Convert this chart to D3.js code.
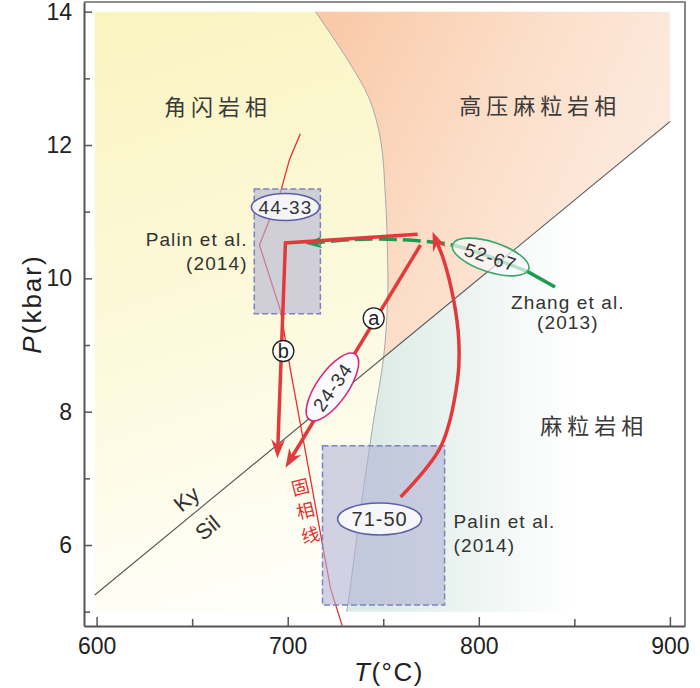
<!DOCTYPE html>
<html>
<head>
<meta charset="utf-8">
<script src="https://cdn.jsdelivr.net/npm/d3@7"></script>
<style>
  body { margin: 0; background: #fff; }
  text { font-family: "Liberation Sans", Arial, sans-serif; }
  .cjk { font-family: "Noto Sans CJK SC", sans-serif; }
</style>
</head>
<body>
<svg id="pt" width="700" height="688"></svg>
<script>
// ticks
let majorT = [600, 700, 800, 900];
let minorT = [650, 750, 850];
let majorP = [6, 8, 10, 12, 14];
let minorP = [5, 7, 9, 11, 13];

// field extent (T, P)
let fieldT = [599, 900];
let fieldP = [5, 14];

// amphibolite / granulite boundary, top to bottom
let boundary = [[714.5, 14], [731.3, 13.28], [742.6, 12.7], [748.6, 12.08], [751.2, 11.18],
  [752.3, 10.28], [752.3, 9.68], [750.2, 8.82], [745.0, 7.88], [738.1, 6.53], [731.3, 5.07], [730.8, 5.0]];

// kyanite - sillimanite line
let kySil = [[599, 5.25], [900, 12.35]];

// solidus
let solidus = [[706.6, 12.17], [700.9, 11.78], [696.2, 11.29], [685.2, 10.5], [696.2, 9.52],
  [701.4, 8.63], [722.4, 5.35], [728.5, 4.79]];

// Palin et al. boxes
let boxes = [{ t: [682.5, 717.1], p: [9.47, 11.34] }, { t: [718.2, 782.1], p: [5.1, 7.49] }];

// P-T paths
let pathB = [[768.0, 10.66], [698.8, 10.53], [694.6, 7.30]];
let pathA = [[769.5, 10.5], [698.8, 7.16]];
let pathC = [[759.1, 6.72], [780.0, 7.47], [788.9, 8.48], [789.5, 9.08], [786.8, 9.68], [781.6, 10.28], [775.8, 10.70]];
let greenSolid = [[839.9, 9.87], [825.6, 10.1], [806.2, 10.32]];
let greenDash = [[806.2, 10.32], [786.3, 10.5], [759.1, 10.58], [732.9, 10.58], [709.2, 10.52]];

// labels
let ages = [
  { text: "44-33", T: 698.8, P: 11.07 },
  { text: "71-50", T: 748.1, P: 6.39 },
  { text: "24-34", T: 723.4, P: 8.37 },
  { text: "52-67", T: 806.2, P: 10.32 }
];
let facies = [
  { text: "角闪岩相", T: 662.2, P: 12.57 },
  { text: "高压麻粒岩相", T: 830.8, P: 12.58 },
  { text: "麻粒岩相", T: 859.1, P: 7.78 }
];
let refs = [
  { lines: ["Palin et al.", "(2014)"], T: 679, P: [10.59, 10.23], anchor: "end" },
  { lines: ["Palin et al.", "(2014)"], T: 786.8, P: [6.35, 6.0], anchor: "start" },
  { lines: ["Zhang et al.", "(2013)"], T: 846.6, P: [9.64, 9.34], anchor: "middle" }
];
let letters = [{ text: "a", T: 745.0, P: 9.40 }, { text: "b", T: 697.7, P: 8.91 }];
let solidusLabel = { chars: ["固", "相", "线"], T: [706.6, 709.2, 711.8], P: [6.87, 6.52, 6.15] };
let kyLabels = [{ text: "Ky", T: 647, P: 6.69 }, { text: "Sil", T: 658, P: 6.26 }];

let svg = d3.select("#pt");
let x = d3.scaleLinear().domain([593.4, 907.9]).range([84, 685]);
let y = d3.scaleLinear().domain([4.785, 14.145]).range([626, 2]);
let line = d3.line().x(d => x(d[0])).y(d => y(d[1]));
let curve = d3.line().x(d => x(d[0])).y(d => y(d[1])).curve(d3.curveCatmullRom);
let kyP = d3.scaleLinear().domain(kySil.map(d => d[0])).range(kySil.map(d => d[1]));

let red = "#e23a3a";
let green = "#1f9a52";

let defs = svg.append("defs");
function grad(id, p1, p2, stops) {
  let g = defs.append("linearGradient").attr("id", id)
    .attr("gradientUnits", "userSpaceOnUse")
    .attr("x1", x(p1[0])).attr("y1", y(p1[1]))
    .attr("x2", x(p2[0])).attr("y2", y(p2[1]));
  stops.forEach(([o, c]) => g.append("stop").attr("offset", o).attr("stop-color", c));
}
grad("gYellow", [600, 14], [700, 5], [[0, "#faf4c0"], [0.5, "#fcf9da"], [1, "#fffffb"]]);
grad("gOrange", [715, 14], [900, 11.5], [[0, "#f9c7a5"], [0.55, "#fcdfca"], [1, "#fdece2"]]);
grad("gGran", [745, 7], [850, 7], [[0, "#dcebe6"], [1, "#ffffff"]]);

let tLo = fieldT[0], tHi = fieldT[1], pLo = fieldP[0], pHi = fieldP[1];
defs.append("clipPath").attr("id", "above")
  .append("path").attr("d", line([[tLo, kyP(tLo)], [tHi, kyP(tHi)], [tHi, pHi + 1], [tLo, pHi + 1]]) + "Z");
defs.append("clipPath").attr("id", "below")
  .append("path").attr("d", line([[tLo, kyP(tLo)], [tHi, kyP(tHi)], [tHi, pLo - 1], [tLo, pLo - 1]]) + "Z");

let bg = svg.append("g");
let bPath = curve(boundary);
let tail = pts => pts.map(d => `L${x(d[0])},${y(d[1])}`).join("") + "Z";
bg.append("path").attr("d", bPath + tail([[tLo, pLo], [tLo, pHi]])).attr("fill", "url(#gYellow)");
bg.append("path").attr("d", bPath + tail([[tHi, pLo], [tHi, pHi]])).attr("fill", "url(#gOrange)").attr("clip-path", "url(#above)");
bg.append("path").attr("d", bPath + tail([[tHi, pLo], [tHi, pHi]])).attr("fill", "url(#gGran)").attr("clip-path", "url(#below)");

// boundary, ky-sil, solidus
bg.append("path").attr("d", bPath).attr("fill", "none").attr("stroke", "#a8a8a8").attr("stroke-width", 1);
bg.append("path").attr("d", line(kySil)).attr("fill", "none").attr("stroke", "#555").attr("stroke-width", 1.1);
bg.append("path").attr("d", line(solidus)).attr("fill", "none").attr("stroke", "#e8302e").attr("stroke-width", 1.3);

// boxes
svg.append("g").selectAll("rect").data(boxes).enter().append("rect")
  .attr("x", d => x(d.t[0])).attr("y", d => y(d.p[1]))
  .attr("width", d => x(d.t[1]) - x(d.t[0])).attr("height", d => y(d.p[0]) - y(d.p[1]))
  .attr("fill", "#b2b3d6").attr("fill-opacity", 0.6)
  .attr("stroke", "#7d82c0").attr("stroke-width", 1.5).attr("stroke-dasharray", "6,3");

// axes
let axisG = svg.append("g");
function styleAxis(g) {
  g.selectAll(".domain").attr("stroke", "#555").attr("stroke-width", 2);
  g.selectAll(".tick line").attr("stroke", "#555").attr("stroke-width", 1.5);
  g.selectAll(".tick text").style("font-family", "Liberation Sans, Arial, sans-serif")
    .style("font-size", "23px").style("fill", "#222");
}
axisG.append("g").attr("transform", `translate(0,${y.range()[0]})`)
  .call(d3.axisBottom(x).tickValues(majorT).tickSizeInner(-9).tickSizeOuter(0).tickPadding(12))
  .call(styleAxis);
axisG.append("g").attr("transform", `translate(0,${y.range()[0]})`)
  .call(d3.axisBottom(x).tickValues(minorT).tickFormat("").tickSizeInner(-7).tickSizeOuter(0))
  .call(g => g.select(".domain").remove()).call(styleAxis);
axisG.append("g").attr("transform", `translate(${x.range()[0]},0)`)
  .call(d3.axisLeft(y).tickValues(majorP).tickSizeInner(-8).tickSizeOuter(0).tickPadding(12))
  .call(styleAxis);
axisG.append("g").attr("transform", `translate(${x.range()[0]},0)`)
  .call(d3.axisLeft(y).tickValues(minorP).tickFormat("").tickSizeInner(-6).tickSizeOuter(0))
  .call(g => g.select(".domain").remove()).call(styleAxis);
axisG.append("path")
  .attr("d", `M${x.range()[0]},${y.range()[1]}H${x.range()[1]}V${y.range()[0]}`)
  .attr("fill", "none").attr("stroke", "#6a6a6a").attr("stroke-width", 1.6);

// paths with arrowheads
let paths = svg.append("g");
function trim(pts, px) {
  let a = [x(pts[pts.length - 2][0]), y(pts[pts.length - 2][1])];
  let b = [x(pts[pts.length - 1][0]), y(pts[pts.length - 1][1])];
  let len = Math.hypot(b[0] - a[0], b[1] - a[1]);
  let k = (len - px) / len;
  let c = [a[0] + (b[0] - a[0]) * k, a[1] + (b[1] - a[1]) * k];
  return pts.slice(0, -1).concat([[x.invert(c[0]), y.invert(c[1])]]);
}
function head(pts, color, L, W) {
  let a = [x(pts[pts.length - 2][0]), y(pts[pts.length - 2][1])];
  let b = [x(pts[pts.length - 1][0]), y(pts[pts.length - 1][1])];
  let ang = Math.atan2(b[1] - a[1], b[0] - a[0]) * 180 / Math.PI;
  paths.append("path")
    .attr("d", `M0,0L${-L},${-W}L${-L * 0.68},0L${-L},${W}Z`)
    .attr("transform", `translate(${b[0]},${b[1]}) rotate(${ang})`)
    .attr("fill", color);
}

paths.append("path").attr("d", line(greenSolid)).attr("fill", "none")
  .attr("stroke", green).attr("stroke-width", 3.5);
paths.append("path").attr("d", curve(trim(greenDash, 8))).attr("fill", "none")
  .attr("stroke", green).attr("stroke-width", 3.5).attr("stroke-dasharray", "18,6");
head(greenDash, green, 17, 6);

[pathB, pathA].forEach(p => {
  paths.append("path").attr("d", line(trim(p, 9))).attr("fill", "none")
    .attr("stroke", red).attr("stroke-width", 3.5).attr("stroke-linejoin", "miter");
  head(p, red, 19, 7);
});
paths.append("path").attr("d", curve(trim(pathC, 9))).attr("fill", "none")
  .attr("stroke", red).attr("stroke-width", 3.5);
head(pathC, red, 19, 7);

// age ellipses
let ellStyle = {
  "44-33": { rx: 34, ry: 13.5, rot: 0, stroke: "#5b5fa8", op: 0.85, size: 19 },
  "71-50": { rx: 42, ry: 16, rot: 0, stroke: "#5b5fa8", op: 0.92, size: 20 },
  "24-34": { rx: 40, ry: 15.5, rot: -55, stroke: "#d8267c", op: 1, size: 19 },
  "52-67": { rx: 40, ry: 15, rot: 18, stroke: "#3aa86e", op: 0.7, size: 19 }
};
let eg = svg.append("g").selectAll("g").data(ages).enter().append("g")
  .attr("transform", d => `translate(${x(d.T)},${y(d.P)}) rotate(${ellStyle[d.text].rot})`);
eg.append("ellipse").attr("rx", d => ellStyle[d.text].rx).attr("ry", d => ellStyle[d.text].ry)
  .attr("fill", "#fbfbfd").attr("fill-opacity", d => ellStyle[d.text].op)
  .attr("stroke", d => ellStyle[d.text].stroke).attr("stroke-width", 1.6);
eg.append("text").text(d => d.text).attr("text-anchor", "middle").attr("dy", "0.36em")
  .style("font-size", d => ellStyle[d.text].size + "px").style("letter-spacing", "1px").style("fill", "#333");

// circled letters
let lg = svg.append("g").selectAll("g").data(letters).enter().append("g")
  .attr("transform", d => `translate(${x(d.T)},${y(d.P)})`);
lg.append("circle").attr("r", 10.5).attr("fill", "#fff").attr("stroke", "#222").attr("stroke-width", 1.3);
lg.append("text").text(d => d.text).attr("text-anchor", "middle").attr("dy", "0.33em")
  .style("font-size", "20px").style("fill", "#222");

// facies names
svg.append("g").selectAll("text").data(facies).enter().append("text")
  .attr("class", "cjk").text(d => d.text)
  .attr("x", d => x(d.T) + 2.5).attr("y", d => y(d.P)).attr("dy", "0.35em")
  .attr("text-anchor", "middle").style("font-size", "22px").style("letter-spacing", "5px")
  .style("fill", "#3a3a3a");

// references
refs.forEach(r => {
  r.lines.forEach((l, i) => {
    svg.append("text").text(l).attr("x", x(r.T)).attr("y", y(r.P[i])).attr("dy", "0.35em")
      .attr("text-anchor", r.anchor).style("font-size", "19px").style("letter-spacing", "1.1px")
      .style("fill", "#333");
  });
});

// Ky / Sil
let kyAng = Math.atan2(y(kySil[1][1]) - y(kySil[0][1]), x(kySil[1][0]) - x(kySil[0][0])) * 180 / Math.PI;
svg.append("g").selectAll("text").data(kyLabels).enter().append("text").text(d => d.text)
  .attr("transform", d => `translate(${x(d.T)},${y(d.P)}) rotate(${kyAng})`)
  .attr("text-anchor", "middle").attr("dy", "0.35em").style("font-size", "22px").style("fill", "#333");

// solidus label
svg.append("g").selectAll("text").data(solidusLabel.chars).enter().append("text")
  .attr("class", "cjk").text(d => d)
  .attr("transform", (d, i) => `translate(${x(solidusLabel.T[i])},${y(solidusLabel.P[i])}) rotate(-14)`)
  .attr("text-anchor", "middle").attr("dy", "0.38em").style("font-size", "18px").style("fill", "#e2302e");

// axis titles
let pt = svg.append("text").attr("transform", "translate(41,304) rotate(-90)")
  .attr("text-anchor", "middle").style("font-size", "26px").style("letter-spacing", "2px").style("fill", "#222");
pt.append("tspan").text("P").style("font-style", "italic");
pt.append("tspan").text("(kbar)");
let tt = svg.append("text").attr("x", 389).attr("y", 681)
  .attr("text-anchor", "middle").style("font-size", "26px").style("letter-spacing", "1.5px").style("fill", "#222");
tt.append("tspan").text("T").style("font-style", "italic");
tt.append("tspan").text("(°C)");
</script>
</body>
</html>
